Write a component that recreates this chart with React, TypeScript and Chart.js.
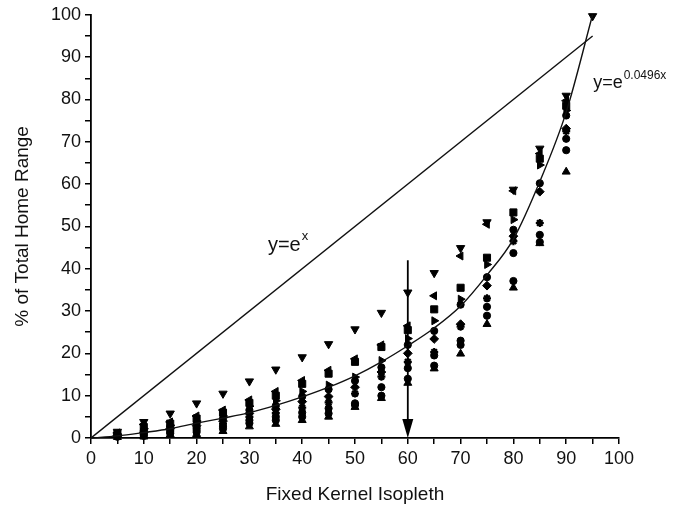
import React, { useEffect, useRef } from "react";
import { Chart, registerables } from "chart.js";

Chart.register(...registerables);

// x positions (Fixed Kernel Isopleth)
const isopleths = [5, 10, 15, 20, 25, 30, 35, 40, 45, 50, 55, 60, 65, 70, 75, 80, 85, 90];
const isoplethsDown = [5, 10, 15, 20, 25, 30, 35, 40, 45, 50, 55, 60, 65, 70, 75, 80, 85, 90, 95];

// series values (% of Total Home Range)
const downTri = [1.5, 3.8, 5.8, 8.2, 10.5, 13.4, 16.2, 19.1, 22.2, 25.7, 29.6, 34.4, 39.0, 44.9, 51.0, 58.7, 68.4, 80.9, 99.7];
const leftTri = [1.2, 3.2, 3.8, 5.2, 6.6, 9.0, 11.0, 13.6, 16.0, 18.7, 22.0, 26.5, 33.6, 43.0, 50.5, 58.4, 67.2, 79.7];
const square = [1.0, 2.6, 3.4, 4.6, 6.0, 8.3, 10.0, 12.8, 15.2, 18.0, 21.5, 25.5, 30.4, 35.5, 42.6, 53.3, 66.0, 78.5];
const rightTri = [0.9, 2.2, 3.0, 4.0, 5.2, 7.5, 8.8, 11.0, 12.5, 14.4, 18.3, 23.5, 27.7, 32.8, 41.0, 51.6, 64.5, 77.4];
const circleA = [0.7, 1.8, 2.6, 3.4, 4.6, 6.6, 7.6, 9.8, 11.5, 13.5, 16.7, 22.0, 25.3, 31.5, 38.0, 49.2, 60.2, 76.2];
const diamond = [0.6, 1.4, 2.2, 2.9, 4.0, 5.8, 6.8, 8.6, 9.8, 12.0, 15.6, 20.0, 23.4, 26.9, 36.0, 47.7, 58.2, 73.1];
const star = [0.5, 1.1, 1.8, 2.4, 3.4, 5.0, 5.9, 7.2, 8.4, 10.5, 14.5, 18.0, 20.3, 26.3, 33.0, 46.5, 50.8, 72.5];
const circleB = [0.4, 0.8, 1.4, 1.9, 2.8, 4.2, 5.0, 6.0, 7.0, 8.2, 12.0, 16.5, 19.5, 23.0, 31.0, 43.7, 48.0, 70.7];
const circleC = [0.3, 0.5, 1.1, 1.4, 2.2, 3.5, 4.2, 5.0, 5.8, 7.8, 10.0, 14.0, 17.1, 22.0, 28.9, 37.1, 46.3, 68.0];
const upTri = [0.2, 0.3, 0.8, 0.9, 1.6, 2.7, 3.3, 4.2, 5.0, 7.3, 9.4, 13.0, 16.4, 19.9, 26.9, 35.5, 46.0, 62.9];

// fitted curve y = e^(0.0496x)
const curveX = [0, 5, 10, 15, 20, 25, 30, 35, 40, 45, 50, 55, 60, 65, 70, 75, 80, 85, 90, 95];
const curveY = [0, 0.5, 1.3, 2.2, 3.5, 4.7, 6.0, 7.7, 9.7, 12.0, 14.7, 18.0, 21.8, 26.0, 31.2, 38.5, 47.0, 60.6, 77.0, 100];

// reference line y = e^x
const refLineX = [0, 95];
const refLineY = [0, 95];

// arrow at the 60% isopleth
const arrowX = 60;
const arrowTop = 42;

// axis range / tick step
const axisMin = 0;
const axisMax = 100;
const tickStep = 5;

const FONT = '"Liberation Sans", Arial, Helvetica, sans-serif';

const pts = (xs: number[], ys: number[]) => ys.map((v, i) => ({ x: xs[i], y: v }));

const annotationPlugin = {
  id: "annot",
  afterDatasetsDraw(chart: any) {
    const { ctx, scales } = chart;
    const x = scales.x;
    const y = scales.y;
    ctx.save();
    // arrow
    const ax = x.getPixelForValue(arrowX);
    const yTop = y.getPixelForValue(arrowTop);
    const yBot = y.getPixelForValue(0);
    ctx.strokeStyle = "#000";
    ctx.fillStyle = "#000";
    ctx.lineWidth = 1.8;
    ctx.beginPath();
    ctx.moveTo(ax, yTop);
    ctx.lineTo(ax, yBot - 12);
    ctx.stroke();
    ctx.beginPath();
    ctx.moveTo(ax, yBot);
    ctx.lineTo(ax - 5.5, yBot - 19);
    ctx.lineTo(ax + 5.5, yBot - 19);
    ctx.closePath();
    ctx.fill();

    // labels
    ctx.fillStyle = "#111";
    ctx.textBaseline = "alphabetic";
    ctx.textAlign = "left";
    const drawEq = (vx: number, vy: number, main: string, sup: string, size: number, supSize: number) => {
      const px = x.getPixelForValue(vx);
      const py = y.getPixelForValue(vy);
      ctx.font = `${size}px ${FONT}`;
      ctx.fillText(main, px, py);
      const w = ctx.measureText(main).width;
      ctx.font = `${supSize}px ${FONT}`;
      ctx.fillText(sup, px + w + 1, py - size * 0.55);
    };
    drawEq(33.5, 44.2, "y=e", "x", 20, 13);
    drawEq(95.1, 82.6, "y=e", "0.0496x", 18, 12);
    ctx.restore();
  },
};

export default function App() {
  const ref = useRef<HTMLCanvasElement | null>(null);

  useEffect(() => {
    if (!ref.current) return;
    const mk = (data: number[], style: string, radius: number, rotation = 0, xs = isopleths, bw = 1) => ({
      type: "scatter" as const,
      data: pts(xs, data),
      pointStyle: style,
      pointRadius: radius,
      pointRotation: rotation,
      backgroundColor: "#000",
      borderColor: "#000",
      borderWidth: bw,
      showLine: false,
      clip: false as any,
    });
    const chart = new Chart(ref.current, {
      type: "scatter",
      data: {
        datasets: [
          {
            type: "line",
            data: pts(refLineX, refLineY),
            borderColor: "#111",
            borderWidth: 1.4,
            pointRadius: 0,
            fill: false,
          } as any,
          {
            type: "line",
            data: pts(curveX, curveY),
            borderColor: "#111",
            borderWidth: 1.4,
            pointRadius: 0,
            fill: false,
            cubicInterpolationMode: "monotone",
            clip: false,
          } as any,
          mk(downTri, "triangle", 4.8, 180, isoplethsDown),
          mk(leftTri, "triangle", 4.6, -90),
          mk(square, "rect", 5),
          mk(rightTri, "triangle", 4.6, 90),
          mk(circleA, "circle", 3.6),
          mk(diamond, "rectRot", 4.4),
          mk(star, "star", 4, 0, isopleths, 2.2),
          mk(circleB, "circle", 3.6),
          mk(circleC, "circle", 3.6),
          mk(upTri, "triangle", 4.6, 0),
        ],
      },
      options: {
        animation: false,
        responsive: false,
        devicePixelRatio: 1,
        layout: { padding: { top: 12, right: 78, left: 0, bottom: 0 } },
        plugins: { legend: { display: false }, tooltip: { enabled: false } },
        scales: {
          x: {
            type: "linear",
            min: axisMin,
            max: axisMax,
            afterFit: (s: any) => {
              s.height = 72;
            },
            ticks: {
              stepSize: tickStep,
              autoSkip: false,
              maxRotation: 0,
              color: "#111",
              padding: 4,
              font: { family: FONT, size: 18 },
              callback: (v: any) => (Number(v) % 10 === 0 ? String(v) : ""),
            },
            grid: { drawOnChartArea: false, drawTicks: true, tickLength: 6, color: "#000", lineWidth: 1.5 },
            border: { display: true, color: "#000", width: 1.8 },
            title: {
              display: true,
              text: "Fixed Kernel Isopleth",
              color: "#111",
              font: { family: FONT, size: 19 },
              padding: { top: 0, bottom: 4 },
            },
          },
          y: {
            type: "linear",
            min: axisMin,
            max: axisMax,
            afterFit: (s: any) => {
              s.width = 91;
            },
            ticks: {
              stepSize: tickStep,
              autoSkip: false,
              color: "#111",
              padding: 4,
              font: { family: FONT, size: 18 },
              callback: (v: any) => (Number(v) % 10 === 0 ? String(v) : ""),
            },
            grid: { drawOnChartArea: false, drawTicks: true, tickLength: 6, color: "#000", lineWidth: 1.5 },
            border: { display: true, color: "#000", width: 1.8 },
            title: {
              display: true,
              text: "% of Total Home Range",
              color: "#111",
              font: { family: FONT, size: 19 },
              padding: { top: 11, bottom: 0 },
            },
          },
        },
      },
      plugins: [annotationPlugin],
    } as any);
    return () => chart.destroy();
  }, []);

  return (
    <div style={{ position: "fixed", left: 0, top: 0, width: 697, height: 510, background: "#fff" }}>
      <canvas ref={ref} width={697} height={510} style={{ display: "block" }} />
    </div>
  );
}
